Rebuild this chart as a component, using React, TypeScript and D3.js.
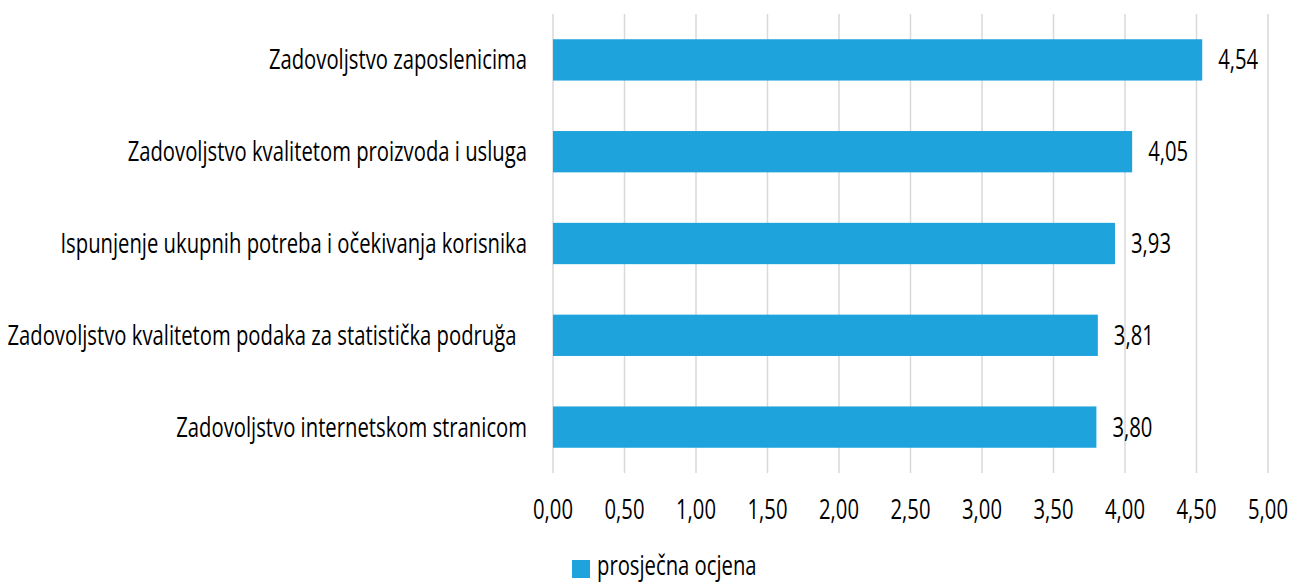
import React from 'react';
import * as d3 from 'd3';

// values
const categories = [
  'Zadovoljstvo zaposlenicima',
  'Zadovoljstvo kvalitetom proizvoda i usluga',
  'Ispunjenje ukupnih potreba i očekivanja korisnika',
  'Zadovoljstvo kvalitetom podaka za statistička podruğa\u00a0\u00a0',
  'Zadovoljstvo internetskom stranicom',
];
const scores = [4.54, 4.05, 3.93, 3.81, 3.8];
const xTicks = [0, 0.5, 1, 1.5, 2, 2.5, 3, 3.5, 4, 4.5, 5];
const seriesName = 'prosječna ocjena';

const WIDTH = 1292;
const HEIGHT = 583;
const FONT = '"Open Sans", "DejaVu Sans", sans-serif';
const FONT_SIZE = 27;
const SQUEEZE = 0.75; // no condensed font installed, so squeeze horizontally
const BAR_COLOR = '#1ea3dd';

// condensed-looking text label
const Label = ({ x, y, anchor = 'start', children }: any) => (
  <text transform={`translate(${x},${y}) scale(${SQUEEZE},1)`} dy="0.35em"
    textAnchor={anchor} fontSize={FONT_SIZE} fill="#000" style={{ whiteSpace: 'pre' }}>
    {children}
  </text>
);

const App: React.FC = () => {
  const margin = { top: 14, right: 24, bottom: 110, left: 553 };

  const x = d3.scaleLinear()
    .domain([0, 5])
    .range([margin.left, 1268]);

  const y = d3.scaleBand<string>()
    .domain(categories)
    .range([margin.top, HEIGHT - margin.bottom])
    .paddingInner(0.55)
    .paddingOuter(0.275);

  const fmt = (v: number) => v.toFixed(2).replace('.', ',');
  const plotBottom = HEIGHT - margin.bottom;
  const mid = (c: string) => (y(c) ?? 0) + y.bandwidth() / 2;

  return (
    <svg width={WIDTH} height={HEIGHT}
      style={{ position: 'absolute', left: 0, top: 0, background: '#fff', fontFamily: FONT }}>
      {/* vertical grid lines */}
      {xTicks.map(t => (
        <line key={'g' + t} x1={x(t)} x2={x(t)} y1={margin.top} y2={plotBottom}
          stroke="#d9d9d9" strokeWidth={1.5} />
      ))}

      {/* bars */}
      {categories.map((c, i) => (
        <rect key={c} x={x(0)} y={y(c)} width={x(scores[i]) - x(0)} height={y.bandwidth()}
          fill={BAR_COLOR} />
      ))}

      {/* value labels */}
      {categories.map((c, i) => (
        <Label key={'v' + c} x={x(scores[i]) + 16} y={mid(c)}>{fmt(scores[i])}</Label>
      ))}

      {/* category labels */}
      {categories.map(c => (
        <Label key={'c' + c} x={x(0) - 26} y={mid(c)} anchor="end">{c}</Label>
      ))}

      {/* x tick labels */}
      {xTicks.map(t => (
        <Label key={'t' + t} x={x(t)} y={510} anchor="middle">{fmt(t)}</Label>
      ))}

      {/* legend */}
      <rect x={572} y={560} width={18} height={18} fill={BAR_COLOR} />
      <Label x={597} y={566}>{seriesName}</Label>
    </svg>
  );
};

export default App;
